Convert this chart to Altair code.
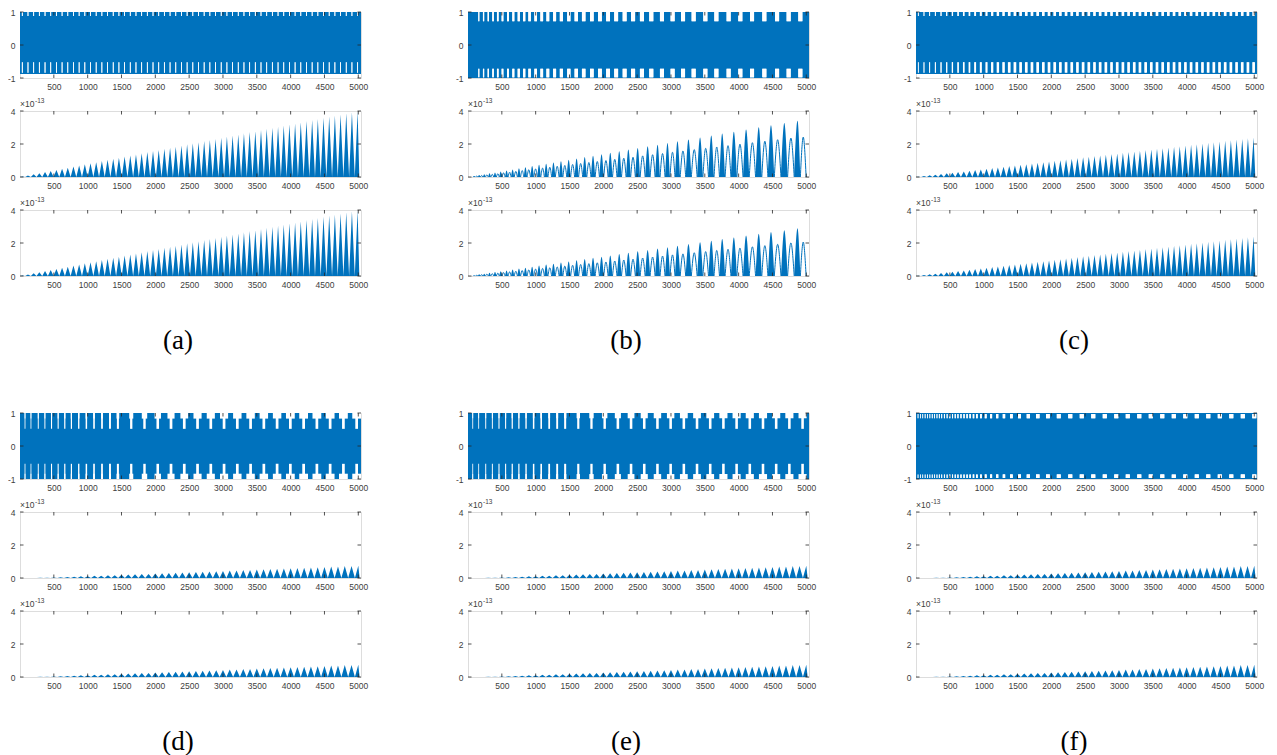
import altair as alt
import pandas as pd

XMAX = 5040
PW, PH = 341, 66
BLUE = "#0072BD"
AXC = "#262626"
LBL = "#404040"
XTICKS = [500, 1000, 1500, 2000, 2500, 3000, 3500, 4000, 4500, 5000]

# ---------------- data ----------------
# (a): spike positions, spike heights (x 1e-13) of middle / bottom panels
beats_a = [34, 118, 202, 286, 370, 454, 538, 622, 706, 790, 874, 958, 1042, 1126, 1210, 1294, 1378, 1462,
           1546, 1630, 1714, 1798, 1882, 1966, 2050, 2134, 2218, 2302, 2386, 2470, 2554, 2638, 2722, 2806,
           2890, 2974, 3058, 3142, 3226, 3310, 3394, 3478, 3562, 3646, 3730, 3814, 3898, 3982, 4066, 4150,
           4234, 4318, 4402, 4486, 4570, 4654, 4738, 4822, 4906, 4990]
peaks_a_mid = [0.03, 0.09, 0.16, 0.23, 0.30, 0.36, 0.43, 0.50, 0.56, 0.63, 0.70, 0.77, 0.83, 0.90, 0.97, 1.04,
               1.10, 1.17, 1.24, 1.30, 1.37, 1.44, 1.51, 1.57, 1.64, 1.71, 1.77, 1.84, 1.91, 1.98, 2.04, 2.11,
               2.18, 2.24, 2.31, 2.38, 2.45, 2.51, 2.58, 2.65, 2.72, 2.78, 2.85, 2.92, 2.98, 3.05, 3.12, 3.19,
               3.25, 3.32, 3.39, 3.45, 3.52, 3.59, 3.66, 3.72, 3.79, 3.86, 3.92, 3.99]
peaks_a_bot = [0.03, 0.09, 0.16, 0.23, 0.30, 0.36, 0.43, 0.50, 0.56, 0.63, 0.70, 0.77, 0.83, 0.90, 0.97, 1.04,
               1.10, 1.17, 1.24, 1.30, 1.37, 1.44, 1.51, 1.57, 1.64, 1.71, 1.77, 1.84, 1.91, 1.98, 2.04, 2.11,
               2.18, 2.24, 2.31, 2.38, 2.45, 2.51, 2.58, 2.65, 2.72, 2.78, 2.85, 2.92, 2.98, 3.05, 3.12, 3.19,
               3.25, 3.32, 3.39, 3.45, 3.52, 3.59, 3.66, 3.72, 3.79, 3.86, 3.92, 3.99]

# (b): big filled lobes and the thin arcs between them
beats_b = [92, 165, 240, 318, 399, 483, 570, 660, 753, 849, 948, 1050, 1155, 1263, 1374, 1488, 1605, 1725,
           1848, 1974, 2103, 2235, 2370, 2508, 2655, 2802, 2949, 3096, 3258, 3430, 3596, 3757, 3929, 4110,
           4297, 4478, 4675, 4870]
lobes_b_mid = [0.06, 0.12, 0.17, 0.22, 0.28, 0.34, 0.40, 0.46, 0.53, 0.59, 0.66, 0.74, 0.81, 0.88, 0.96, 1.04,
               1.12, 1.21, 1.29, 1.38, 1.47, 1.56, 1.66, 1.76, 1.86, 1.96, 2.06, 2.17, 2.28, 2.40, 2.52, 2.63,
               2.75, 2.88, 3.01, 3.13, 3.27, 3.41]
arcs_b_mid = [0.05, 0.09, 0.13, 0.16, 0.20, 0.25, 0.29, 0.34, 0.39, 0.44, 0.49, 0.54, 0.59, 0.65, 0.70, 0.76,
              0.82, 0.88, 0.94, 1.00, 1.07, 1.14, 1.20, 1.28, 1.35, 1.42, 1.50, 1.58, 1.66, 1.74, 1.82, 1.90,
              1.99, 2.08, 2.17, 2.26, 2.36, 2.42]
lobes_b_bot = [0.05, 0.10, 0.14, 0.19, 0.24, 0.29, 0.34, 0.39, 0.45, 0.50, 0.56, 0.63, 0.69, 0.75, 0.82, 0.88,
               0.95, 1.03, 1.10, 1.17, 1.25, 1.33, 1.41, 1.50, 1.58, 1.67, 1.75, 1.84, 1.94, 2.04, 2.14, 2.24,
               2.34, 2.45, 2.56, 2.66, 2.78, 2.90]
arcs_b_bot = [0.04, 0.08, 0.11, 0.14, 0.17, 0.21, 0.25, 0.29, 0.33, 0.37, 0.42, 0.46, 0.50, 0.55, 0.60, 0.65,
              0.70, 0.75, 0.80, 0.85, 0.91, 0.97, 1.02, 1.09, 1.15, 1.21, 1.28, 1.34, 1.41, 1.48, 1.55, 1.62,
              1.69, 1.77, 1.84, 1.92, 2.01, 2.06]
notch_b = [160, 230, 300, 370, 440, 510, 590, 670, 750, 830, 910, 1000, 1090, 1180, 1280, 1380, 1490, 1600,
           1710, 1830, 1950, 2070, 2190, 2315, 2440, 2571, 2709, 2867, 3024, 3178, 3335, 3508, 3671, 3852,
           4025, 4198, 4380, 4568, 4739, 4912]
notch_b_w = [15, 18, 20, 22, 24, 26, 28, 30, 32, 34, 36, 38, 40, 42, 44, 46, 48, 50, 52, 54, 55, 56, 57, 58,
             59, 60, 60, 60, 60, 60, 60, 60, 60, 60, 60, 60, 60, 60, 60, 60]

# (c)
beats_c = [34, 118, 202, 286, 370, 454, 538, 622, 706, 790, 874, 958, 1042, 1126, 1210, 1294, 1378, 1462,
           1546, 1630, 1714, 1798, 1882, 1966, 2050, 2134, 2218, 2302, 2386, 2470, 2554, 2638, 2722, 2806,
           2890, 2974, 3058, 3142, 3226, 3310, 3394, 3478, 3562, 3646, 3730, 3814, 3898, 3982, 4066, 4150,
           4234, 4318, 4402, 4486, 4570, 4654, 4738, 4822, 4906, 4990]
peaks_c = [0.02, 0.06, 0.10, 0.14, 0.18, 0.22, 0.26, 0.30, 0.34, 0.38, 0.42, 0.46, 0.50, 0.54, 0.58, 0.62,
           0.66, 0.70, 0.74, 0.78, 0.82, 0.86, 0.90, 0.94, 0.98, 1.02, 1.06, 1.10, 1.15, 1.19, 1.23, 1.27, 1.31,
           1.35, 1.39, 1.43, 1.47, 1.51, 1.55, 1.59, 1.63, 1.67, 1.71, 1.75, 1.79, 1.83, 1.87, 1.91, 1.95, 1.99,
           2.03, 2.07, 2.11, 2.15, 2.19, 2.23, 2.27, 2.31, 2.35, 2.40]
notch_c_w = [8, 10, 12, 14, 16, 18, 20, 22, 24, 26, 28, 30, 32, 34, 36, 38, 40, 40, 40, 40, 40, 40, 40, 40,
             40, 40, 40, 40, 40, 40, 40, 40, 40, 40, 40, 40, 40, 40, 40, 40, 40, 40, 40, 40, 40, 40, 40, 40,
             40, 40, 40, 40, 40, 40, 40, 40, 40, 40, 40, 40]

# (d), (e), (f): middle and bottom panels
beats_def = [100, 200, 300, 400, 500, 600, 700, 800, 900, 1000, 1100, 1200, 1300, 1400, 1500, 1600, 1700,
             1800, 1900, 2000, 2100, 2200, 2300, 2400, 2500, 2600, 2700, 2800, 2900, 3000, 3100, 3200, 3300,
             3400, 3500, 3600, 3700, 3800, 3900, 4000, 4100, 4200, 4300, 4400, 4500, 4600, 4700, 4800, 4900, 5000]
peaks_def = [0.0, 0.0, 0.01, 0.02, 0.03, 0.05, 0.06, 0.08, 0.1, 0.11, 0.13, 0.14, 0.16, 0.17, 0.19, 0.21, 0.22,
             0.24, 0.25, 0.27, 0.29, 0.3, 0.32, 0.33, 0.35, 0.37, 0.38, 0.4, 0.41, 0.43, 0.45, 0.46, 0.48, 0.49,
             0.51, 0.53, 0.54, 0.56, 0.57, 0.59, 0.61, 0.62, 0.64, 0.65, 0.67, 0.69, 0.7, 0.72, 0.73, 0.75]

# (d), (e) top: T-shaped gaps (stem width, cross-bar width)
notch_d = [74, 162, 270, 368, 466, 564, 662, 760, 868, 981, 1094, 1212, 1330, 1447, 1644, 1840, 2036, 2232,
           2428, 2624, 2820, 3016, 3212, 3408, 3604, 3800, 3996, 4192, 4388, 4584, 4780, 4976]
stem_d = [12, 12, 14, 14, 16, 16, 18, 18, 20, 22, 24, 26, 28, 30, 34, 36, 38, 40, 40, 40, 40, 40, 40, 40,
          40, 40, 40, 40, 40, 40, 40, 40]
bar_d = [12, 12, 14, 14, 16, 16, 18, 18, 20, 22, 24, 26, 28, 40, 60, 80, 95, 105, 115, 120, 120, 120, 125,
         125, 125, 125, 130, 130, 130, 130, 130, 130]
notch_e = [70, 158, 262, 360, 458, 556, 654, 752, 858, 970, 1082, 1200, 1318, 1436, 1630, 1825, 2020, 2215,
           2410, 2605, 2800, 2995, 3190, 3385, 3580, 3775, 3970, 4165, 4360, 4555, 4750, 4945]
stem_e = [12, 12, 14, 14, 16, 16, 18, 18, 20, 22, 24, 26, 28, 30, 32, 34, 36, 38, 38, 38, 38, 38, 38, 38,
          38, 38, 38, 38, 38, 38, 38, 38]
bar_e = [12, 12, 14, 14, 16, 16, 18, 18, 20, 22, 24, 26, 28, 35, 50, 65, 80, 90, 100, 105, 110, 110, 115,
         115, 115, 120, 120, 120, 120, 120, 120, 120]

# (f) top: short dashes near both edges
notch_f = [30, 65, 100, 135, 170, 205, 240, 275, 310, 345, 380, 420, 460, 500, 540, 580, 620, 665, 710, 755,
           800, 850, 900, 960, 1030, 1110, 1200, 1300, 1410, 1530, 1660, 1800, 1950, 2110, 2280, 2450, 2620,
           2790, 2960, 3130, 3300, 3470, 3640, 3810, 3980, 4150, 4320, 4490, 4660, 4830, 5000]
notch_f_w = [10, 10, 10, 11, 11, 11, 12, 12, 12, 13, 13, 14, 14, 15, 15, 16, 17, 18, 19, 20, 21, 22, 24, 26,
             28, 30, 33, 36, 40, 44, 48, 52, 55, 58, 60, 60, 60, 60, 60, 60, 60, 60, 60, 60, 60, 60, 60, 60,
             60, 60, 60]

labels = ["(a)", "(b)", "(c)", "(d)", "(e)", "(f)"]

XAXIS = alt.Axis(values=XTICKS, format="d", title=None, grid=False, ticks=False, domain=False,
                 labelFontSize=8.5, labelFont="Liberation Sans", labelColor=LBL, labelPadding=4,
                 labelFlush=False)


def yaxis(yvals):
    return alt.Axis(values=yvals, title=None, grid=False, ticks=False, domain=False,
                    labelExpr="datum.value < 0 ? '-' + (-datum.value) : '' + datum.value",
                    labelFontSize=8.5, labelFont="Liberation Sans", labelColor=LBL, labelPadding=5)


# ---------------- helpers ----------------
def xenc(field="x"):
    return alt.X(f"{field}:Q", scale=alt.Scale(domain=[0, XMAX], nice=False, zero=False), axis=XAXIS)


def yenc(ydom, yvals, field="y"):
    return alt.Y(f"{field}:Q", scale=alt.Scale(domain=ydom, nice=False, zero=False), axis=yaxis(yvals),
                 stack=None)


def tick_layers(ydom, yvals):
    tx = pd.DataFrame({"t": XTICKS})
    ty = pd.DataFrame({"v": yvals})
    r1 = alt.Chart(tx).mark_rule(color=AXC, strokeWidth=0.8).encode(
        x=xenc("t"), y=alt.value(0), y2=alt.value(3.5))
    r2 = alt.Chart(tx).mark_rule(color=AXC, strokeWidth=0.8).encode(
        x=xenc("t"), y=alt.value(PH - 3.5), y2=alt.value(PH))
    r3 = alt.Chart(ty).mark_rule(color=AXC, strokeWidth=0.8).encode(
        y=yenc(ydom, yvals, "v"), x=alt.value(0), x2=alt.value(3.5))
    r4 = alt.Chart(ty).mark_rule(color=AXC, strokeWidth=0.8).encode(
        y=yenc(ydom, yvals, "v"), x=alt.value(PW - 3.5), x2=alt.value(PW))
    return [r1, r2, r3, r4]


def exponent_layers():
    one = pd.DataFrame({"k": [0]})
    t1 = alt.Chart(one).mark_text(align="left", baseline="alphabetic", fontSize=8.5, font="Liberation Sans",
                                  color=LBL).encode(x=alt.value(0), y=alt.value(-4), text=alt.value("×10"))
    t2 = alt.Chart(one).mark_text(align="left", baseline="alphabetic", fontSize=6.5, font="Liberation Sans",
                                  color=LBL).encode(x=alt.value(15), y=alt.value(-8), text=alt.value("-13"))
    return [t1, t2]


def label_layer(text):
    one = pd.DataFrame({"k": [0]})
    return alt.Chart(one).mark_text(fontSize=27, font="Liberation Serif", color="black",
                                    baseline="middle", align="center").encode(
        x=alt.value(PW / 2 - 12.5), y=alt.value(131), text=alt.value(text))


def widths(w, n):
    return w if isinstance(w, list) else [w] * n


def top_panel(pos, stem_w, bar_w, band, stem_up, bar_up, stem_dn, bar_dn):
    ydom, yv = [-1, 1], [-1, 0, 1]
    n = len(pos)
    sw, bw = widths(stem_w, n), widths(bar_w, n)
    bdf = pd.DataFrame({"x0": [0], "x1": [XMAX], "lo": [band[0]], "hi": [band[1]]})
    band_l = alt.Chart(bdf).mark_rect(color=BLUE).encode(
        x=xenc("x0"), x2="x1:Q", y=yenc(ydom, yv, "lo"), y2="hi:Q")
    a, b, lo, hi = [], [], [], []
    for p, s, w in zip(pos, sw, bw):
        for (rng, wid) in ((stem_up, s), (bar_up, w), (stem_dn, s), (bar_dn, w)):
            a.append(p - wid / 2)
            b.append(p + wid / 2)
            lo.append(rng[0])
            hi.append(rng[1])
    ndf = pd.DataFrame({"a": a, "b": b, "lo": lo, "hi": hi})
    notch_l = alt.Chart(ndf).mark_rect(color="white").encode(
        x=xenc("a"), x2="b:Q", y=yenc(ydom, yv, "lo"), y2="hi:Q")
    layers = [band_l, notch_l] + tick_layers(ydom, yv)
    return alt.layer(*layers).properties(width=PW, height=PH)


def spike_rows(beats, heights):
    xs, ys = [0], [0]
    for i, (b, h) in enumerate(zip(beats, heights)):
        nxt = beats[i + 1] if i + 1 < len(beats) else XMAX
        xs += [b, (b + nxt) / 2]
        ys += [h, 0]
    return pd.DataFrame({"x": xs, "y": ys})


def spike_panel(beats, heights, label=None):
    ydom, yv = [0, 4], [0, 2, 4]
    area = alt.Chart(spike_rows(beats, heights)).mark_area(color=BLUE, clip=True).encode(
        x=xenc(), y=yenc(ydom, yv))
    layers = [area] + tick_layers(ydom, yv) + exponent_layers()
    if label:
        layers.append(label_layer(label))
    return alt.layer(*layers).properties(width=PW, height=PH)


def lobe_panel(beats, lobes, arcs, label=None):
    ydom, yv = [0, 4], [0, 2, 4]
    lx, ly, lid, ax, ay, aid = [], [], [], [], [], []
    for i, b in enumerate(beats):
        prv = beats[i - 1] if i > 0 else 0
        nxt = beats[i + 1] if i + 1 < len(beats) else XMAX
        m0 = (prv + b) / 2
        m1 = (b + nxt) / 2
        l0 = (m0 + b) / 2
        l1 = (b + m1) / 2
        lx += [l0, b, l1]
        ly += [0, lobes[i], 0]
        lid += [i] * 3
        a1 = (m1 + nxt) / 2
        ax += [l1, m1, a1]
        ay += [0, arcs[i], 0]
        aid += [i] * 3
    ldf = pd.DataFrame({"x": lx, "y": ly, "g": lid})
    adf = pd.DataFrame({"x": ax, "y": ay, "g": aid})
    lob = alt.Chart(ldf).mark_area(color=BLUE, clip=True, interpolate="monotone").encode(
        x=xenc(), y=yenc(ydom, yv), detail="g:N")
    arc = alt.Chart(adf).mark_line(color=BLUE, clip=True, strokeWidth=1, interpolate="monotone").encode(
        x=xenc(), y=yenc(ydom, yv), detail="g:N")
    layers = [lob, arc] + tick_layers(ydom, yv) + exponent_layers()
    if label:
        layers.append(label_layer(label))
    return alt.layer(*layers).properties(width=PW, height=PH)


def spacer():
    one = pd.DataFrame({"k": [0]})
    return alt.Chart(one).mark_point(opacity=0).encode(
        x=alt.value(0), y=alt.value(0)
    ).properties(width=PW, height=71, view=alt.ViewBackground(stroke="transparent"))


cells = [
    top_panel(beats_a, 12, 12, (-0.88, 1.0), (0.88, 1.0), (0.88, 1.0), (-0.84, -0.52), (-0.84, -0.52)),
    top_panel(notch_b, notch_b_w, notch_b_w, (-1.0, 1.0), (0.72, 1.0), (0.72, 1.0), (-0.98, -0.72),
              (-0.98, -0.72)),
    top_panel(beats_c, 12, notch_c_w, (-0.88, 1.0), (0.88, 1.0), (0.88, 1.0), (-0.84, -0.52), (-0.84, -0.52)),
    spike_panel(beats_a, peaks_a_mid),
    lobe_panel(beats_b, lobes_b_mid, arcs_b_mid),
    spike_panel(beats_c, peaks_c),
    spike_panel(beats_a, peaks_a_bot, labels[0]),
    lobe_panel(beats_b, lobes_b_bot, arcs_b_bot, labels[1]),
    spike_panel(beats_c, peaks_c, labels[2]),
    spacer(), spacer(), spacer(),
    top_panel(notch_d, stem_d, bar_d, (-1.0, 1.0), (0.52, 1.0), (0.83, 1.0), (-1.0, -0.54), (-1.0, -0.84)),
    top_panel(notch_e, stem_e, bar_e, (-1.0, 1.0), (0.52, 1.0), (0.84, 1.0), (-1.0, -0.54), (-1.0, -0.85)),
    top_panel(notch_f, notch_f_w, notch_f_w, (-1.0, 1.0), (0.84, 0.97), (0.84, 0.97), (-0.97, -0.86),
              (-0.97, -0.86)),
    spike_panel(beats_def, peaks_def),
    spike_panel(beats_def, peaks_def),
    spike_panel(beats_def, peaks_def),
    spike_panel(beats_def, peaks_def, labels[3]),
    spike_panel(beats_def, peaks_def, labels[4]),
    spike_panel(beats_def, peaks_def, labels[5]),
]

chart = alt.concat(*cells, columns=3, spacing={"row": 33, "column": 107}, bounds="flush").properties(
    padding={"left": -2, "top": -1, "right": 0, "bottom": 0}
).configure_view(stroke=AXC, strokeWidth=0.8).configure(background="white")

chart.save("out.html", embed_options={"renderer": "svg", "actions": False})
